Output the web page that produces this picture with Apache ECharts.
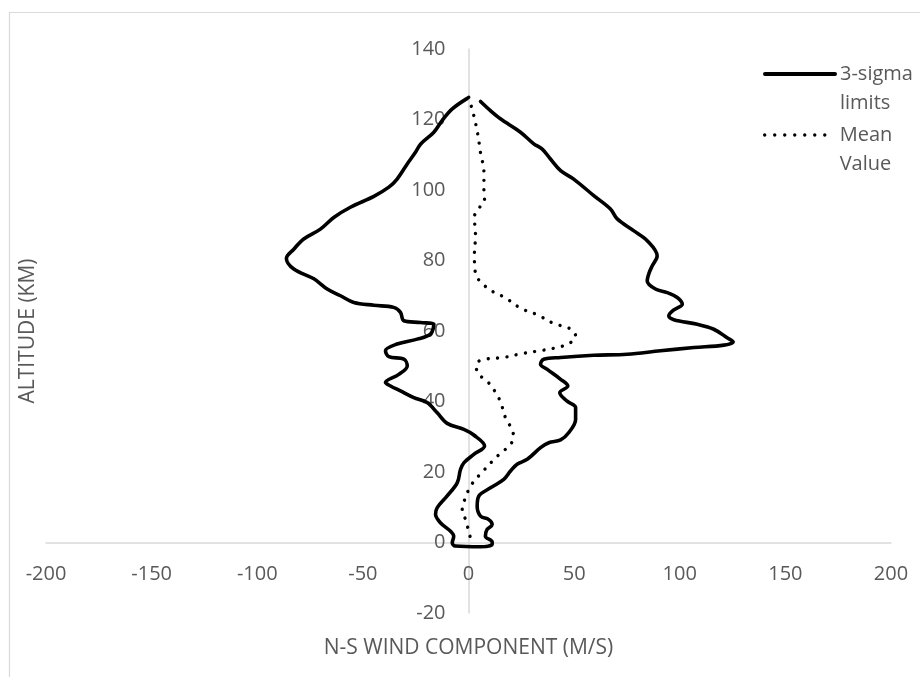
<!DOCTYPE html>
<html>
<head>
<meta charset="utf-8">
<script src="https://cdn.jsdelivr.net/npm/echarts@6/dist/echarts.min.js"></script>
<style>
  html, body { margin: 0; padding: 0; background: #fff; }
  #chart { width: 920px; height: 677px; }
</style>
</head>
<body>
<div id="chart"></div>
<script>
// 3-sigma limits envelope: N-S wind (m/s) and altitude (km), traced top-left -> bottom -> top-right
const sigmaWind = [
  -0.6, -7.7, -12.5, -16.4, -22.7, -25.1, -29.0, -33.8, -37.7, -44.8, -55.9, -63.8, -70.1, -78.0, -82.7, -86.2,
  -82.7, -73.2, -66.9, -60.6, -54.3, -44.8, -35.4, -32.2, -30.6, -22.7, -16.4, -18.0, -24.3, -33.8, -39.3, -37.7,
  -30.6, -29.0, -33.0, -39.3, -36.9, -32.2, -25.9, -19.6, -14.8, -10.1, -2.2, 2.5, 7.6, 2.5, -2.2, -3.8, -5.3,
  -10.1, -14.8, -15.6, -13.3, -8.5, -7.0, -7.7, -6.2, 5.7, 11.2, 11.2, 8.0, 8.8, 11.2, 9.6, 5.7, 4.1, 4.9, 10.4,
  16.7, 19.9, 23.0, 27.8, 34.1, 38.0, 43.6, 47.5, 50.7, 50.7, 46.7, 43.2, 47.0, 43.6, 37.3, 34.1, 35.6, 43.6,
  59.3, 75.1, 90.9, 106.7, 120.9, 125.3, 122.4, 116.1, 108.3, 97.2, 94.8, 97.2, 101.2, 98.8, 94.1, 88.5, 84.6,
  85.5, 87.0, 89.3, 84.6, 78.3, 70.4, 67.2, 59.3, 49.8, 43.6, 38.8, 34.9, 30.9, 24.6, 15.1, 10.4, 5.7
];
const sigmaAlt = [
  126.0, 123.0, 119.7, 116.4, 113.0, 110.7, 107.4, 103.1, 100.8, 98.2, 95.1, 92.2, 88.9, 86.1, 83.2, 80.6,
  77.6, 74.8, 71.9, 70.0, 68.1, 67.3, 66.7, 65.3, 62.9, 62.4, 61.9, 59.1, 57.7, 56.3, 54.4, 52.7,
  52.0, 50.1, 47.7, 45.4, 44.4, 43.0, 41.1, 39.7, 36.8, 33.8, 32.1, 30.5, 27.4, 25.0, 22.6, 20.7, 17.0,
  13.2, 9.9, 8.0, 5.6, 3.2, 1.8, -0.1, -1.0, -1.2, -0.6, 0.2, 1.8, 3.7, 5.1, 6.5, 7.5, 10.3, 13.2, 15.5,
  17.9, 20.3, 22.2, 23.6, 26.9, 28.3, 29.1, 31.2, 34.9, 38.3, 40.1, 42.5, 44.4, 46.3, 49.1, 50.6, 52.0, 52.5,
  53.1, 53.4, 54.4, 55.3, 56.0, 56.9, 58.1, 60.5, 61.9, 63.2, 64.3, 66.0, 67.6, 69.5, 70.9, 71.9, 74.2,
  76.5, 78.5, 81.3, 85.6, 88.4, 91.8, 94.6, 98.4, 103.1, 105.5, 108.8, 111.6, 113.1, 116.4, 120.2, 122.5, 125.1
];
// Mean value profile
const meanWind = [
  0.1, 2.5, 4.4, 5.7, 7.3, 7.3, 7.6, 4.9, 2.8, 3.3, 2.8, 3.3, 9.1, 17.2, 24.9, 33.0, 40.1, 48.6, 50.7, 48.3,
  43.9, 34.9, 25.4, 16.7, 8.0, 4.1, 3.8, 10.1, 14.8, 17.5, 21.2, 20.2, 13.3, 7.3, 1.3, -2.2, -3.0, -1.4, 0.9
];
const meanAlt = [
  126.3, 121.1, 115.8, 110.5, 105.2, 99.8, 97.1, 94.8, 92.4, 87.0, 81.6, 76.4, 72.1, 69.5, 66.4, 64.5, 62.2, 60.5, 58.6, 56.7,
  55.6, 54.5, 53.6, 52.5, 52.0, 51.0, 49.0, 44.9, 40.4, 35.4, 30.7, 28.1, 24.3, 20.5, 16.3, 11.5, 9.0, 6.5, 1.3
];
const seriesNames = ['3-sigma limits', 'Mean Value'];
const xTitle = 'N-S WIND COMPONENT (M/S)';
const yTitle = 'ALTITUDE (KM)';
const xRange = [-200, 200];
const yRange = [-20, 140];

const pairs = (xs, ys) => xs.map((x, i) => [x, ys[i]]);

const FONT = '"Open Sans", "Noto Sans", sans-serif';
const GRAY = '#595959';
const AXIS = '#d9d9d9';

// plot box in pixels
const W = 920, H = 677;
const G = { left: 46, right: 29, top: 49, bottom: 64 };
const plotW = W - G.left - G.right, plotH = H - G.top - G.bottom;
// shift each axis from the grid edge to the zero line of the other axis
const yAxisShift = plotW * (0 - xRange[0]) / (xRange[1] - xRange[0]);
const xAxisShift = plotH * (0 - yRange[0]) / (yRange[1] - yRange[0]);

const legendText = { color: GRAY, fontSize: 20, fontFamily: FONT, lineHeight: 29 };

const chart = echarts.init(document.getElementById('chart'), null, { renderer: 'canvas' });
chart.setOption({
  animation: false,
  backgroundColor: '#ffffff',
  textStyle: { fontFamily: FONT },
  graphic: [{
    type: 'rect', left: 7, top: 10, silent: true,
    shape: { width: 1000, height: 1000 },
    style: { fill: 'none', stroke: AXIS, lineWidth: 1.2 }
  }],
  grid: { left: G.left, right: G.right, top: G.top, bottom: G.bottom, containLabel: false, outerBoundsMode: 'none' },
  legend: [{
    orient: 'vertical', left: 763, top: 30.5, padding: 0,
    itemWidth: 70, itemHeight: 14,
    data: [{ name: seriesNames[0], itemStyle: { color: 'rgba(0,0,0,0)', borderWidth: 0 },
             lineStyle: { color: '#000', width: 4, type: 'solid', cap: 'round' } }],
    formatter: n => ' \n' + n.replace(' ', '\n'),
    textStyle: legendText
  }, {
    orient: 'vertical', left: 763, top: 91.5, padding: 0,
    itemWidth: 70, itemHeight: 14,
    data: [{ name: seriesNames[1], itemStyle: { color: 'rgba(0,0,0,0)', borderWidth: 0 },
             lineStyle: { color: '#000', width: 3.4, type: [0.01, 10], cap: 'round' } }],
    formatter: n => ' \n' + n.replace(' ', '\n'),
    textStyle: legendText
  }],
  xAxis: {
    type: 'value', min: xRange[0], max: xRange[1], interval: 50,
    position: 'bottom', offset: -xAxisShift,
    axisLine: { onZero: false, lineStyle: { color: AXIS, width: 1.5 } },
    axisTick: { show: false },
    splitLine: { show: false },
    axisLabel: { color: GRAY, fontSize: 20, fontFamily: FONT, margin: 22 },
    name: xTitle, nameLocation: 'middle', nameGap: 95,
    nameTextStyle: { color: GRAY, fontSize: 21, fontFamily: FONT }
  },
  yAxis: {
    type: 'value', min: yRange[0], max: yRange[1], interval: 20,
    position: 'left', offset: -yAxisShift,
    axisLine: { onZero: false, lineStyle: { color: AXIS, width: 1.5 } },
    axisTick: { show: false },
    splitLine: { show: false },
    axisLabel: { color: GRAY, fontSize: 20, fontFamily: FONT, margin: 23 },
    name: yTitle, nameLocation: 'middle', nameGap: 430,
    nameTextStyle: { color: GRAY, fontSize: 21, fontFamily: FONT }
  },
  series: [{
    name: seriesNames[0], type: 'line', data: pairs(sigmaWind, sigmaAlt),
    symbol: 'none', smooth: 0.35,
    lineStyle: { color: '#000', width: 3.6, cap: 'round', join: 'round' },
    itemStyle: { color: '#000' }
  }, {
    name: seriesNames[1], type: 'line', data: pairs(meanWind, meanAlt),
    symbol: 'none', smooth: 0.35,
    lineStyle: { color: '#000', width: 3.4, type: [0.01, 9.4], cap: 'round' },
    itemStyle: { color: '#000' }
  }]
});
</script>
</body>
</html>
